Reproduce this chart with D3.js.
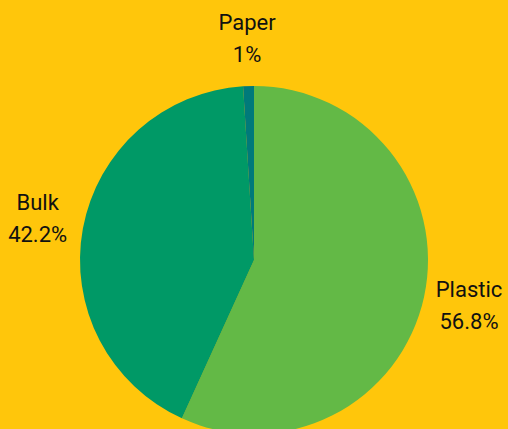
<!DOCTYPE html>
<html><head><meta charset="utf-8">
<script src="https://cdn.jsdelivr.net/npm/d3@7"></script>
<style>html,body{margin:0;padding:0;background:#FFC60B;overflow:hidden}</style>
</head><body>
<svg id="c" width="508" height="429"></svg>
<script>
const categories = ["Plastic", "Bulk", "Paper"];
const values = [56.8, 42.2, 1];
const labels = ["56.8%", "42.2%", "1%"];
const colors = ["#63B946", "#009966", "#007A7A"];

const W = 508, H = 429, cx = 254, cy = 260, R = 174, LR = 220;
const svg = d3.select("#c");
svg.append("rect").attr("width", W).attr("height", H).attr("fill", "#FFC60B");
const g = svg.append("g").attr("transform", `translate(${cx},${cy})`);
const pie = d3.pie().sort(null).value(d => d)(values);
const arc = d3.arc().innerRadius(0).outerRadius(R);
g.selectAll("path").data(pie).join("path")
  .attr("d", arc).attr("fill", (d, i) => colors[i]);
const la = d3.arc().innerRadius(LR).outerRadius(LR);
const t = g.selectAll("text").data(pie).join("text")
  .attr("transform", d => `translate(${la.centroid(d)})`)
  .attr("text-anchor", "middle")
  .attr("font-family", "Roboto, sans-serif")
  .attr("font-size", 22)
  .attr("fill", "#111");
t.append("tspan").attr("x", 0).attr("dy", "-0.45em").text((d, i) => categories[i]);
t.append("tspan").attr("x", 0).attr("dy", "1.45em").text((d, i) => labels[i]);
</script>
</body></html>
